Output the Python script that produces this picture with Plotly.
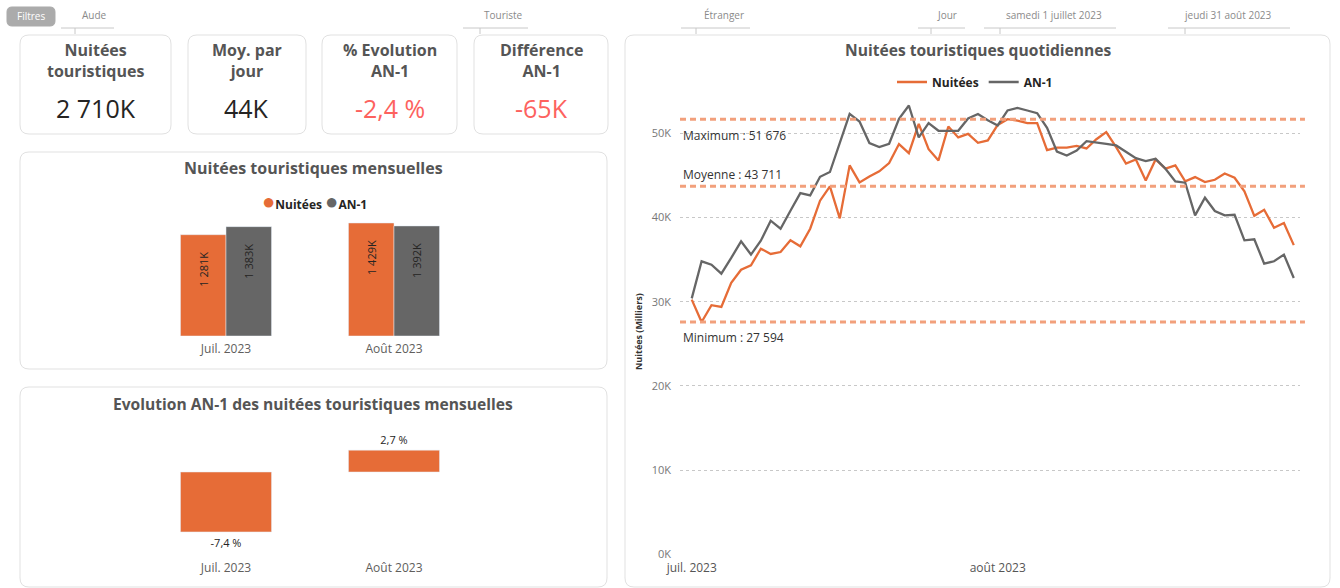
import plotly.graph_objects as go
import pandas as pd

W, H = 1340, 588
FONT = "Segoe UI, Open Sans, sans-serif"
ORANGE = "#E66C37"
GRAY = "#666666"
RED = "#FD625E"
TITLE_C = "#555555"
TXT = "#252423"

# ---------------- data ----------------
filter_labels = ["Aude", "Touriste", "Étranger", "Jour", "samedi 1 juillet 2023", "jeudi 31 août 2023"]

kpi_titles = ["Nuitées<br>touristiques", "Moy. par<br>jour", "% Evolution<br>AN-1", "Différence<br>AN-1"]
kpi_values = ["2 710K", "44K", "-2,4 %", "-65K"]

months = ["Juil. 2023", "Août 2023"]
monthly_nuitees_k = [1281, 1429]
monthly_an1_k = [1383, 1392]
monthly_evol_pct = [-7.4, 2.7]

daily_nuitees = [30250, 27594, 29580, 29380, 32230, 33800, 34330, 36300, 35670, 35900,
                 37290, 36580, 38670, 42000, 43700, 39900, 46190, 44170, 44880, 45480,
                 46460, 48720, 47650, 51130, 48120, 46780, 50810, 49510, 49940, 48870,
                 49150,
                 51000, 51676, 51500, 51200, 51200, 48000, 48300, 48300, 48500, 48200,
                 49300, 50140, 48360, 46400, 46900, 44400, 46900, 45800, 46180, 44300,
                 44800, 44200, 44480, 45230, 44720, 43100, 40200, 40920, 38790, 39340,
                 36720]
daily_an1 = [30400, 34800, 34400, 33330, 35200, 37170, 35600, 37250, 39620, 38670,
             40800, 42900, 42630, 44840, 45400, 48800, 52300, 51400, 48840, 48360,
             48760, 51720, 53300, 49510, 51210, 50300, 50300, 50300, 51760, 52300,
             51560,
             50930, 52710, 53020, 52710, 52390, 50650, 47840, 47370, 47960, 49070,
             48950, 48750, 48560, 47770, 47050, 46700, 46970, 45790, 44290, 44130,
             40250, 42350, 40770, 40250, 40330, 37290, 37410, 34520, 34800, 35590,
             32820]
dates = pd.date_range("2023-07-01", "2023-08-31", freq="D")
y_ticks = [0, 10000, 20000, 30000, 40000, 50000]
y_ticktext = ["0K", "10K", "20K", "30K", "40K", "50K"]
x_tickdates = ["2023-07-01", "2023-08-01"]
x_ticktext = ["juil. 2023", "août 2023"]


def fr(n):
    return f"{n:,}".replace(",", " ")


# ---------------- helpers ----------------
def px(x):
    return x / W


def py(y):
    return 1 - y / H


def rrect(x0, y0, x1, y1, r=9, color="#E1E1E1", fill="white"):
    def f(x, y):
        return f"{x / W:.5f},{1 - y / H:.5f}"
    path = (f"M{f(x0 + r, y0)} L{f(x1 - r, y0)} Q{f(x1, y0)} {f(x1, y0 + r)} "
            f"L{f(x1, y1 - r)} Q{f(x1, y1)} {f(x1 - r, y1)} L{f(x0 + r, y1)} "
            f"Q{f(x0, y1)} {f(x0, y1 - r)} L{f(x0, y0 + r)} Q{f(x0, y0)} {f(x0 + r, y0)} Z")
    return dict(type="path", path=path, xref="paper", yref="paper",
                line=dict(color=color, width=1), fillcolor=fill, layer="below")


def ann(x, y, text, size=12, color=TXT, bold=False, xanchor="center", **kw):
    return dict(x=px(x), y=py(y), xref="paper", yref="paper", text=text, showarrow=False,
                xanchor=xanchor, yanchor="middle",
                font=dict(family=FONT, size=size, color=color, weight="bold" if bold else "normal"), **kw)


fig = go.Figure()

# ---------------- line chart ----------------
fig.add_trace(go.Scatter(x=dates, y=daily_nuitees, name="Nuitées", mode="lines",
                         line=dict(color=ORANGE, width=2.3), xaxis="x3", yaxis="y3"))
fig.add_trace(go.Scatter(x=dates, y=daily_an1, name="AN-1", mode="lines",
                         line=dict(color=GRAY, width=2.3), xaxis="x3", yaxis="y3"))

# ---------------- monthly bars ----------------
pad = "\u00a0" * 5
fig.add_trace(go.Bar(x=months, y=monthly_nuitees_k, name="Nuitées", marker=dict(color=ORANGE),
                     text=[fr(v) + "K" + pad for v in monthly_nuitees_k], textposition="inside",
                     insidetextanchor="end", textangle=-90,
                     textfont=dict(family=FONT, size=11, color=TXT),
                     showlegend=False, xaxis="x", yaxis="y"))
fig.add_trace(go.Bar(x=months, y=monthly_an1_k, name="AN-1", marker=dict(color=GRAY),
                     text=[fr(v) + "K" + pad for v in monthly_an1_k], textposition="inside",
                     insidetextanchor="end", textangle=-90,
                     textfont=dict(family=FONT, size=11, color=TXT),
                     showlegend=False, xaxis="x", yaxis="y"))

# ---------------- evolution bars ----------------
fig.add_trace(go.Bar(x=months, y=monthly_evol_pct, name="Evolution", marker=dict(color=ORANGE),
                     text=[f"{v:.1f} %".replace(".", ",") for v in monthly_evol_pct],
                     textposition="outside", textangle=0, cliponaxis=False,
                     textfont=dict(family=FONT, size=11, color=TXT),
                     showlegend=False, xaxis="x2", yaxis="y2"))

shapes = []
annotations = []

# cards / panels
cards = [(20, 35, 171, 134), (188, 35, 306, 134), (322, 35, 457, 134), (474, 35, 608, 134)]
for c in cards:
    shapes.append(rrect(*c))
shapes.append(rrect(20, 152, 607, 369))
shapes.append(rrect(20, 387, 607, 587))
shapes.append(rrect(625, 35, 1330, 587))

# filter bar
shapes.append(rrect(7, 7, 55, 26, r=5, color="#ABABAB", fill="#ABABAB"))
annotations.append(ann(31, 16.5, "Filtres", size=10, color="white"))
filter_geo = [(94, 61, 114, 75), (503, 463, 528, 480), (724, 681, 750, 696),
              (947, 918, 965, 931), (1054, 984, 1116, 1000), (1228, 1168, 1290, 1185)]
for lab, (cx, l0, l1, tk) in zip(filter_labels, filter_geo):
    annotations.append(ann(cx, 15, lab, size=10, color="#8A8A8A"))
    shapes.append(dict(type="line", xref="paper", yref="paper", x0=px(l0), x1=px(l1), y0=py(28), y1=py(28),
                       line=dict(color="#C8C8C8", width=1)))
    shapes.append(dict(type="line", xref="paper", yref="paper", x0=px(tk), x1=px(tk), y0=py(28), y1=py(34),
                       line=dict(color="#C8C8C8", width=1)))

# KPI texts
for (x0, y0, x1, y1), t, v in zip(cards, kpi_titles, kpi_values):
    cx = (x0 + x1) / 2
    annotations.append(ann(cx, 61, t, size=16, color=TITLE_C, bold=True))
    col = RED if v.startswith("-") else TXT
    annotations.append(ann(cx, 108, v, size=25, color=col))

# panel titles
annotations.append(ann(313, 168, "Nuitées touristiques mensuelles", size=16, color=TITLE_C, bold=True))
annotations.append(ann(313, 404, "Evolution AN-1 des nuitées touristiques mensuelles", size=15.6, color=TITLE_C, bold=True))
annotations.append(ann(978, 50, "Nuitées touristiques quotidiennes", size=15.6, color=TITLE_C, bold=True))

# bar legend
annotations.append(ann(314, 200,
                       f"<span style='color:{ORANGE};font-size:22px'>●</span><b>Nuitées</b> "
                       f"<span style='color:{GRAY};font-size:22px'>●</span><b>AN-1</b>",
                       size=12, color=TXT))

# y axis title of line chart
annotations.append(ann(638, 332, "Nuitées (Milliers)", size=9, color="#333333", bold=True, textangle=-90))

# reference lines
vmax = max(daily_nuitees)
vmin = min(daily_nuitees)
vmean = round(sum(daily_nuitees) / len(daily_nuitees))
for val, lab, shift in [(vmax, "Maximum", -16), (vmean, "Moyenne", 12), (vmin, "Minimum", -16)]:
    shapes.append(dict(type="line", xref="x3 domain", yref="y3", x0=0, x1=1.008, y0=val, y1=val,
                       line=dict(color="#F2A07C", width=3, dash="6px,4px"), layer="above"))
    annotations.append(dict(xref="x3 domain", yref="y3", x=0.002, y=val, yshift=shift,
                            text=f"{lab} : {fr(val)}", showarrow=False, xanchor="left", yanchor="middle",
                            font=dict(family=FONT, size=12, color="#333333")))

x_start = pd.Timestamp("2023-07-01") - pd.Timedelta(days=1.19)
x_end = pd.Timestamp("2023-07-01") + pd.Timedelta(days=61.63)

fig.update_layout(
    width=W, height=H, margin=dict(l=0, r=0, t=0, b=0, pad=0, autoexpand=False),
    paper_bgcolor="white", plot_bgcolor="rgba(0,0,0,0)",
    font=dict(family=FONT, color=TXT),
    barmode="group", bargap=0.458, bargroupgap=0,
    shapes=shapes, annotations=annotations,
    showlegend=True,
    legend=dict(orientation="h", x=px(975), xanchor="center", y=py(82), yanchor="middle",
                font=dict(family=FONT, size=12, color=TXT, weight="bold"),
                bgcolor="rgba(0,0,0,0)", itemwidth=30, tracegroupgap=0),
    xaxis=dict(domain=[px(142), px(478)], anchor="y", type="category", showgrid=False, showline=False,
               ticks="", tickfont=dict(family=FONT, size=12, color="#605E5C"), fixedrange=True,
               automargin=False, ticklabelstandoff=4),
    yaxis=dict(domain=[py(336), py(215)], anchor="x", range=[0, 1530], visible=False, fixedrange=True,
               automargin=False),
    xaxis2=dict(domain=[px(142), px(478)], anchor="y2", type="category", showgrid=False, showline=False,
                ticks="", tickfont=dict(family=FONT, size=12, color="#605E5C"), fixedrange=True,
                automargin=False, ticklabelstandoff=6),
    yaxis2=dict(domain=[py(553), py(420)], anchor="x2", range=[-(553 - 472) / 8.1, (472 - 420) / 8.1],
                visible=False, fixedrange=True, automargin=False),
    xaxis3=dict(domain=[px(680), px(1300)], anchor="y3", type="date", range=[x_start, x_end],
                tickvals=x_tickdates, ticktext=x_ticktext, showgrid=False, showline=False, ticks="",
                tickfont=dict(family=FONT, size=12, color="#555555"), fixedrange=True, automargin=False,
                ticklabelstandoff=5),
    yaxis3=dict(domain=[py(554.3), py(95)], anchor="x3", range=[0, 54550], tickvals=y_ticks,
                ticktext=y_ticktext, showgrid=True, gridcolor="#C8C8C8", griddash="dot", gridwidth=1,
                zeroline=False, showline=False, ticks="", ticklabelstandoff=8,
                tickfont=dict(family=FONT, size=11, color="#777777"), fixedrange=True, automargin=False),
)

fig.write_html("out.html", config={"displayModeBar": False},
               post_script="document.body.style.margin='0';document.body.style.overflow='hidden';")
